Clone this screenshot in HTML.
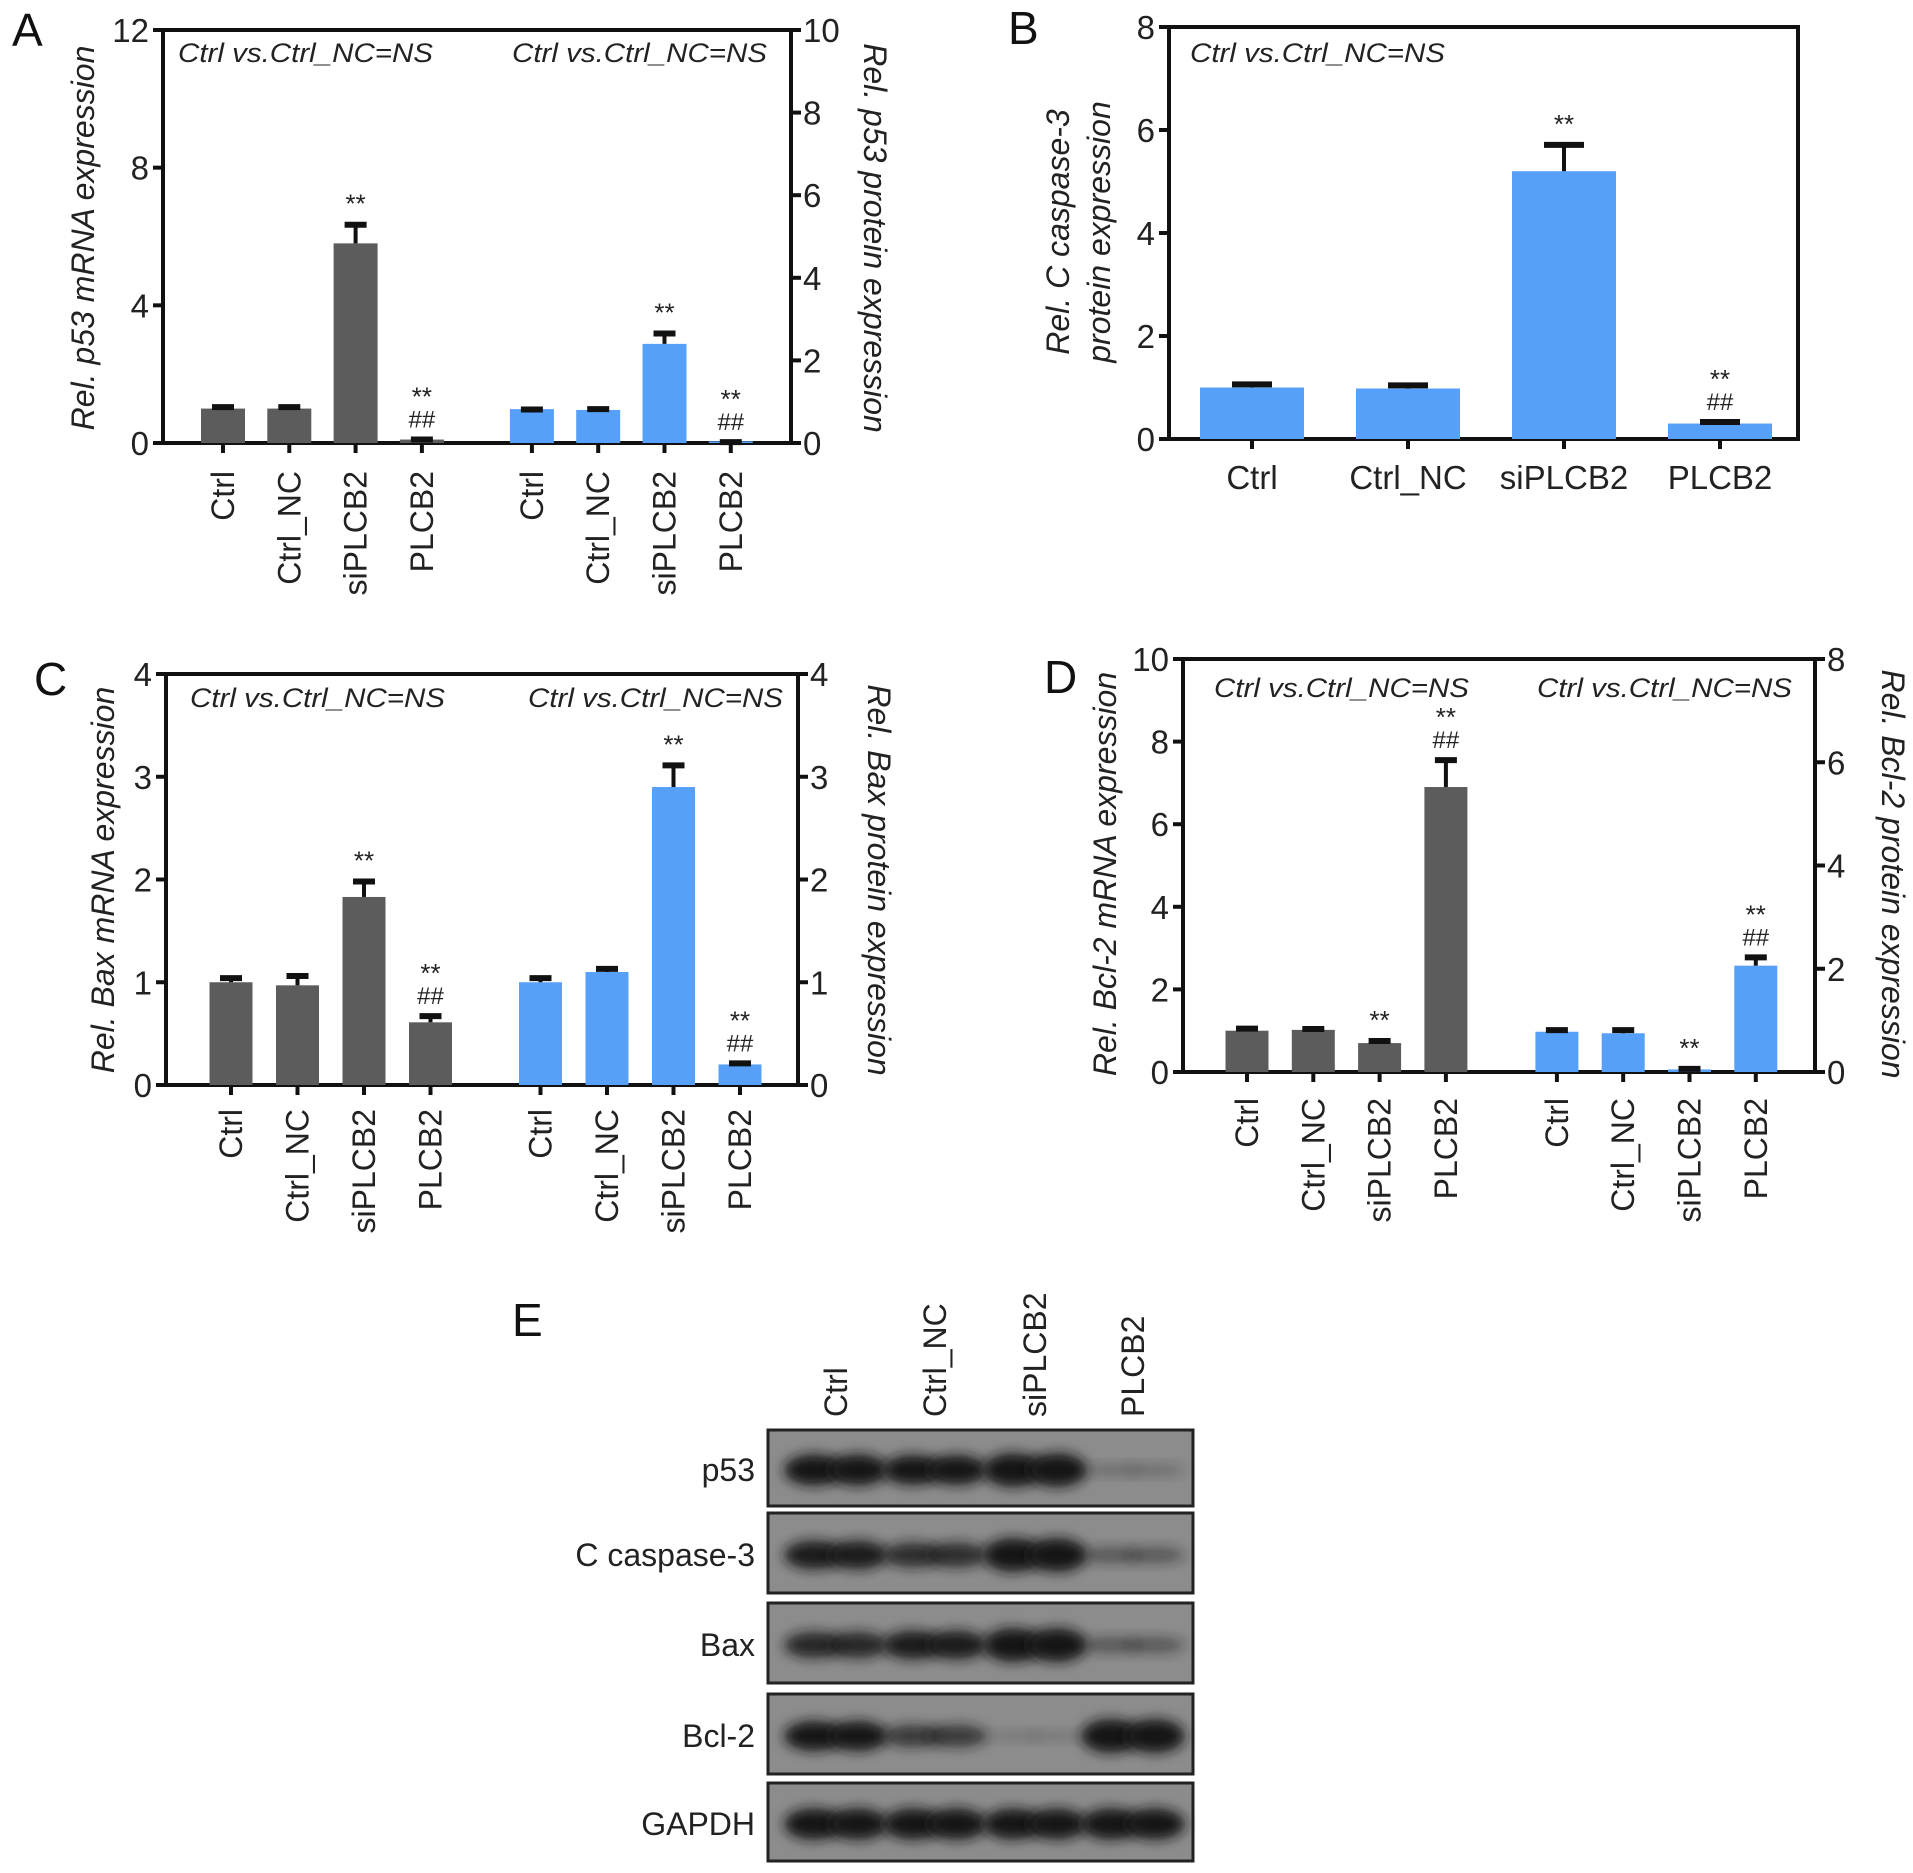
<!DOCTYPE html>
<html><head><meta charset="utf-8"><style>
html,body{margin:0;padding:0;background:#fff;}
svg{display:block;font-family:"Liberation Sans",Arial,sans-serif;}
</style></head><body>
<svg id="fig" width="1913" height="1873" viewBox="0 0 1913 1873" xmlns="http://www.w3.org/2000/svg">
<defs>
<filter id="blur" x="-30%" y="-60%" width="160%" height="220%"><feGaussianBlur stdDeviation="6"/></filter>
</defs>
</svg>
<script>
// ---- Data ----
const cats = ['Ctrl','Ctrl_NC','siPLCB2','PLCB2'];
// Panel A
const aMrna = [1.0, 1.0, 5.8, 0.1];
const aMrnaErr = [0.1, 0.1, 0.6, 0.06];
const aMrnaSig = ['', '', '**', '**|##'];
const aProt = [0.82, 0.8, 2.4, 0.04];
const aProtErr = [0.04, 0.07, 0.3, 0.03];
const aProtSig = ['', '', '**', '**|##'];
const aLeftTicks = [0, 4, 8, 12];
const aRightTicks = [0, 2, 4, 6, 8, 10];
// Panel B
const bProt = [1.0, 0.98, 5.2, 0.3];
const bProtErr = [0.1, 0.1, 0.55, 0.07];
const bProtSig = ['', '', '**', '**|##'];
const bTicks = [0, 2, 4, 6, 8];
// Panel C
const cMrna = [1.0, 0.97, 1.83, 0.61];
const cMrnaErr = [0.06, 0.11, 0.17, 0.08];
const cMrnaSig = ['', '', '**', '**|##'];
const cProt = [1.0, 1.1, 2.9, 0.2];
const cProtErr = [0.06, 0.05, 0.23, 0.03];
const cProtSig = ['', '', '**', '**|##'];
const cLeftTicks = [0, 1, 2, 3, 4];
const cRightTicks = [0, 1, 2, 3, 4];
// Panel D
const dMrna = [1.0, 1.02, 0.7, 6.9];
const dMrnaErr = [0.1, 0.07, 0.1, 0.7];
const dMrnaSig = ['', '', '**', '**|##'];
const dProt = [0.78, 0.75, 0.05, 2.06];
const dProtErr = [0.07, 0.1, 0.05, 0.2];
const dProtSig = ['', '', '**', '**|##'];
const dLeftTicks = [0, 2, 4, 6, 8, 10];
const dRightTicks = [0, 2, 4, 6, 8];
// Panel E (band intensities per lane)
const blotRows = ['p53','C caspase-3','Bax','Bcl-2','GAPDH'];
const blotP53 = [0.9, 0.85, 1.0, 0.12];
const blotCasp = [0.8, 0.65, 1.0, 0.3];
const blotBax = [0.7, 0.8, 1.0, 0.3];
const blotBcl2 = [0.85, 0.55, 0.05, 1.0];
const blotGapdh = [0.9, 0.9, 0.88, 0.9];

const NS = 'http://www.w3.org/2000/svg';
const svg = document.getElementById('fig');
function el(tag, attrs, parent, text){
  const e = document.createElementNS(NS, tag);
  for (const k in attrs) e.setAttribute(k, attrs[k]);
  if (text !== undefined) e.textContent = text;
  (parent || svg).appendChild(e);
  return e;
}
const GREY = '#5c5c5c', BLUE = '#56a0f9';

function panel(p){
  const g = el('g', {});
  
  
  const yL = v => p.yBot - (v / p.lMax) * (p.yBot - p.yTop);
  const yR = v => p.yBot - (v / p.rMax) * (p.yBot - p.yTop);
  const xC = (grp, i) => p.x0 + p.first + i * p.step + grp * (3 * p.step + p.groupGap);
  const ax = el('path', {d:`M${p.x0} ${p.yTop} V${p.yBot} H${p.x1}` + (p.box ? ` V${p.yTop} H${p.x0}` : (p.rMax ? ` V${p.yTop}` : '')) + (p.box ? '' : ` M${p.x0} ${p.yTop} H${p.x1}`), fill:'none', stroke:'#111', 'stroke-width':4}, g);
  
  
  p.lTicks.forEach(t => {
    const y = yL(t);
    el('line', {x1:p.x0 - 10, x2:p.x0, y1:y, y2:y, stroke:'#111', 'stroke-width':4}, g);
    const tx = el('text', {x:p.x0 - 14, y:y + 12, 'text-anchor':'end', 'font-size':33, fill:'#222'}, g, String(t));
    
    
  });
  if (p.rTicks){
    p.rTicks.forEach(t => {
      const y = yR(t);
      el('line', {x1:p.x1, x2:p.x1 + 10, y1:y, y2:y, stroke:'#111', 'stroke-width':4}, g);
      const tx = el('text', {x:p.x1 + 12, y:y + 12, 'text-anchor':'start', 'font-size':33, fill:'#222'}, g, String(t));
      
      
    });
  }
  p.series.forEach((s, grp) => {
    const ys = s.axis === 'r' ? yR : yL;
    s.vals.forEach((v, i) => {
      const cx = xC(grp, i);
      const top = ys(v);
      const r = el('rect', {x:cx - p.bw/2, y:top, width:p.bw, height:p.yBot - top, fill:s.color}, g);
      
      
      const et = ys(v + s.err[i]);
      el('line', {x1:cx, x2:cx, y1:top, y2:et, stroke:'#111', 'stroke-width':4}, g);
      el('line', {x1:cx - p.cap/2, x2:cx + p.cap/2, y1:et + 2, y2:et + 2, stroke:'#111', 'stroke-width':6}, g);
      el('line', {x1:cx, x2:cx, y1:p.yBot, y2:p.yBot + 10, stroke:'#111', 'stroke-width':4}, g);
      const lines = s.sig[i] ? s.sig[i].split('|') : [];
      lines.reverse().forEach((t, k) => {
        const st = el('text', {x:cx, y:et - 10 - k * 22, 'text-anchor':'middle', 'font-size':t === '**' ? 26 : 24, fill:'#222'}, g, t);
        
        
      });
      let lb;
      if (p.horizLabels){
        lb = el('text', {x:cx, y:p.labelY, 'text-anchor':'middle', 'font-size':33, fill:'#222'}, g, cats[i]);
      } else {
        lb = el('text', {x:0, y:0, 'text-anchor':'end', 'font-size':32, fill:'#222', transform:`translate(${cx + 11},${p.labelY}) rotate(-90)`}, g, cats[i]);
      }
      
      
    });
  });
  p.notes.forEach(n => {
    const t = el('text', {x:n[0], y:n[1], 'font-size':27, 'font-style':'italic', fill:'#222', textLength:255, lengthAdjust:'spacingAndGlyphs'}, g, 'Ctrl vs.Ctrl_NC=NS');
    
    
  });
  p.titles.forEach(tt => {
    const t = el('text', {x:0, y:0, 'text-anchor':'middle', 'font-size':32, 'font-style':'italic', fill:'#222', transform:`translate(${tt.x},${tt.y}) rotate(${tt.rot})`}, g, tt.text);
    
    
  });
  const L = el('text', {x:p.letter[0], y:p.letter[1], 'font-size':46, fill:'#111'}, g, p.letter[2]);
  
  
}

panel({name:'panel-a', x0:163, x1:791, yTop:30, yBot:443, lMax:12, rMax:10, lTicks:aLeftTicks, rTicks:aRightTicks,
  first:60, step:66.3, groupGap:110, bw:44, cap:22, labelY:471,
  series:[{key:'mrna', vals:aMrna, err:aMrnaErr, sig:aMrnaSig, color:GREY, axis:'l'},
          {key:'protein', vals:aProt, err:aProtErr, sig:aProtSig, color:BLUE, axis:'r'}],
  notes:[[178,62],[512,62]],
  titles:[{x:94, y:238, rot:-90, text:'Rel. p53 mRNA expression', name:'y-axis-title-left'},
          {x:864, y:238, rot:90, text:'Rel. p53 protein expression', name:'y-axis-title-right'}],
  letter:[12,46,'A']});

panel({name:'panel-b', x0:1169, x1:1798, yTop:27, yBot:439, lMax:8, rMax:0, lTicks:bTicks, rTicks:null, box:true,
  first:83, step:156, groupGap:0, bw:104, cap:40, labelY:489, horizLabels:true,
  series:[{key:'protein', vals:bProt, err:bProtErr, sig:bProtSig, color:BLUE, axis:'l'}],
  notes:[[1190,62]],
  titles:[{x:1069, y:232, rot:-90, text:'Rel. C caspase-3', name:'y-axis-title-line1'},
          {x:1110, y:232, rot:-90, text:'protein expression', name:'y-axis-title-line2'}],
  letter:[1008,44,'B']});

panel({name:'panel-c', x0:166, x1:798, yTop:674, yBot:1085, lMax:4, rMax:4, lTicks:cLeftTicks, rTicks:cRightTicks,
  first:65, step:66.5, groupGap:110, bw:43, cap:22, labelY:1109,
  series:[{key:'mrna', vals:cMrna, err:cMrnaErr, sig:cMrnaSig, color:GREY, axis:'l'},
          {key:'protein', vals:cProt, err:cProtErr, sig:cProtSig, color:BLUE, axis:'r'}],
  notes:[[190,707],[528,707]],
  titles:[{x:114, y:880, rot:-90, text:'Rel. Bax mRNA expression', name:'y-axis-title-left'},
          {x:868, y:880, rot:90, text:'Rel. Bax protein expression', name:'y-axis-title-right'}],
  letter:[34,695,'C']});

panel({name:'panel-d', x0:1183, x1:1815, yTop:659, yBot:1072, lMax:10, rMax:8, lTicks:dLeftTicks, rTicks:dRightTicks,
  first:64, step:66.3, groupGap:111, bw:43, cap:22, labelY:1098,
  series:[{key:'mrna', vals:dMrna, err:dMrnaErr, sig:dMrnaSig, color:GREY, axis:'l'},
          {key:'protein', vals:dProt, err:dProtErr, sig:dProtSig, color:BLUE, axis:'r'}],
  notes:[[1214,697],[1537,697]],
  titles:[{x:1116, y:874, rot:-90, text:'Rel. Bcl-2 mRNA expression', name:'y-axis-title-left'},
          {x:1882, y:874, rot:90, text:'Rel. Bcl-2 protein expression', name:'y-axis-title-right'}],
  letter:[1044,693,'D']});

// ---- Panel E: western blot ----
(function(){
  const g = el('g', {});
  
  
  const L = el('text', {x:512, y:1336, 'font-size':46, fill:'#111'}, g, 'E');
  
  
  const bx0 = 768, bx1 = 1193;
  const laneX = [836, 935, 1035, 1133];
  cats.forEach((c, i) => {
    const t = el('text', {x:0, y:0, 'text-anchor':'start', 'font-size':32, fill:'#222', transform:`translate(${laneX[i] + 11},${1417}) rotate(-90)`}, g, c);
    
    
  });
  const rowsY = [[1430,1506],[1513,1593],[1603,1683],[1694,1774],[1783,1861]];
  const data = [blotP53, blotCasp, blotBax, blotBcl2, blotGapdh];
  rowsY.forEach((ry, r) => {
    const box = el('rect', {x:bx0, y:ry[0], width:bx1 - bx0, height:ry[1] - ry[0], fill:'#8c8c8c', stroke:'#222', 'stroke-width':3}, g);
    
    
    const cy = (ry[0] + ry[1]) / 2 + 2;
    data[r].forEach((v, i) => {
      const h = 8 + 26 * v;
      const op = Math.min(1, 0.15 + v);
      [-22, 22].forEach(dx => {
        const b = el('ellipse', {cx:laneX[i] + dx, cy:cy, rx:30, ry:h / 2, fill:'#141414', opacity:op, filter:'url(#blur)'}, g);
        
        
      });
    });
    const t = el('text', {x:755, y:cy + 11, 'text-anchor':'end', 'font-size':32, fill:'#222'}, g, blotRows[r]);
    
    
  });
})();
</script>
</body></html>
